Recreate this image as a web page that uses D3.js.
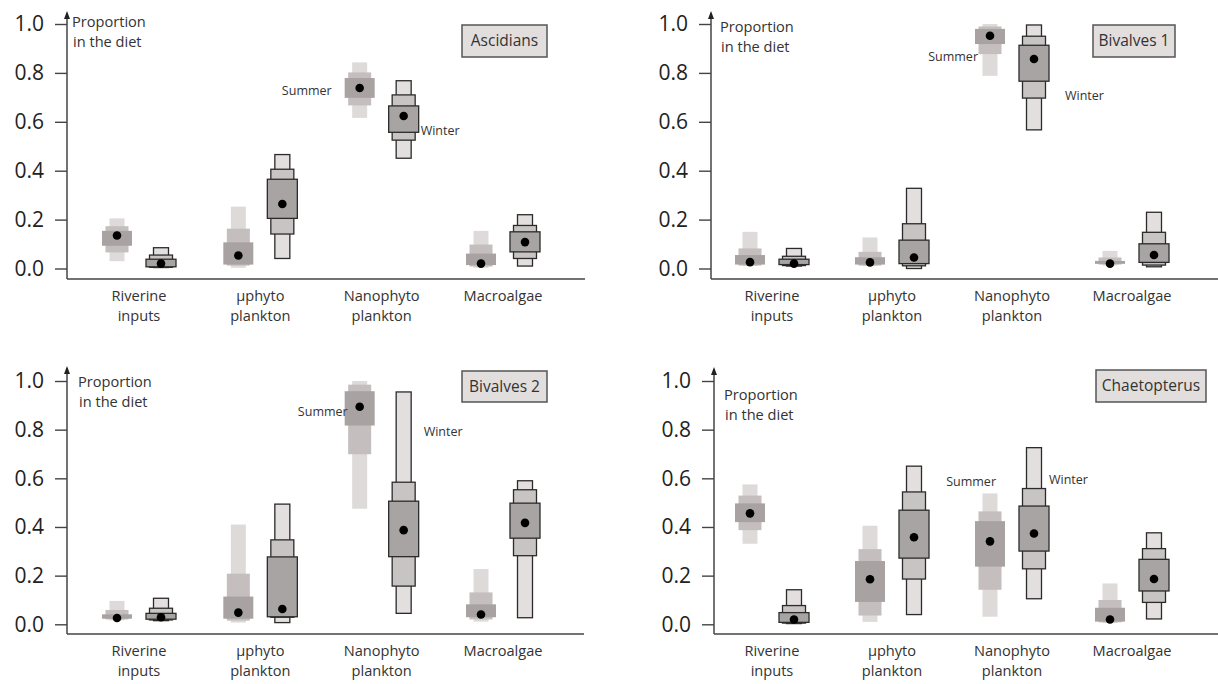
<!DOCTYPE html>
<html>
<head>
<meta charset="utf-8">
<script src="https://cdn.jsdelivr.net/npm/d3@7"></script>
<style>
  body { margin: 0; background: #fff; }
  svg { display: block; font-family: "Open Sans", "DejaVu Sans", sans-serif; }
</style>
</head>
<body>
<svg id="chart" width="1218" height="684"></svg>
<script>
// Food sources and their two-line axis labels
const categories = ["Riverine inputs", "µphyto plankton", "Nanophyto plankton", "Macroalgae"];
const categoryLines = [["Riverine", "inputs"], ["µphyto", "plankton"], ["Nanophyto", "plankton"], ["Macroalgae"]];
const seasons = ["Summer", "Winter"];
const panelNames = ["Ascidians", "Bivalves 1", "Bivalves 2", "Chaetopterus"];
const yTicks = [0, 0.2, 0.4, 0.6, 0.8, 1.0];

// Per source: [mode, lo50, hi50, lo75, hi75, lo95, hi95]
const ascidiansSummer = [
  [0.135, 0.093, 0.154, 0.066, 0.173, 0.030, 0.205],
  [0.053, 0.016, 0.107, 0.012, 0.163, 0.003, 0.253],
  [0.738, 0.698, 0.779, 0.667, 0.802, 0.616, 0.843],
  [0.020, 0.014, 0.061, 0.008, 0.098, 0.003, 0.154]
];
const ascidiansWinter = [
  [0.020, 0.007, 0.038, 0.005, 0.055, 0.004, 0.085],
  [0.264, 0.205, 0.365, 0.141, 0.406, 0.041, 0.466],
  [0.624, 0.557, 0.665, 0.525, 0.710, 0.451, 0.768],
  [0.108, 0.068, 0.150, 0.041, 0.176, 0.010, 0.220]
];
const bivalves1Summer = [
  [0.026, 0.016, 0.055, 0.012, 0.082, 0.010, 0.150],
  [0.025, 0.016, 0.046, 0.012, 0.068, 0.010, 0.127],
  [0.952, 0.918, 0.980, 0.877, 0.990, 0.788, 1.000],
  [0.020, 0.019, 0.031, 0.016, 0.045, 0.012, 0.072]
];
const bivalves1Winter = [
  [0.020, 0.016, 0.038, 0.012, 0.050, 0.010, 0.082],
  [0.045, 0.020, 0.116, 0.011, 0.183, 0.000, 0.328],
  [0.857, 0.766, 0.913, 0.697, 0.950, 0.567, 0.996],
  [0.055, 0.025, 0.101, 0.014, 0.148, 0.007, 0.230]
];
const bivalves2Summer = [
  [0.026, 0.023, 0.041, 0.020, 0.059, 0.016, 0.096],
  [0.048, 0.023, 0.114, 0.015, 0.208, 0.007, 0.410],
  [0.894, 0.817, 0.958, 0.699, 0.985, 0.475, 1.000],
  [0.040, 0.029, 0.082, 0.020, 0.131, 0.011, 0.227]
];
const bivalves2Winter = [
  [0.029, 0.021, 0.045, 0.018, 0.066, 0.015, 0.107],
  [0.063, 0.031, 0.277, 0.029, 0.347, 0.007, 0.494],
  [0.387, 0.278, 0.506, 0.157, 0.584, 0.045, 0.955],
  [0.417, 0.354, 0.498, 0.282, 0.553, 0.027, 0.590]
];
const chaetopterusSummer = [
  [0.456, 0.420, 0.497, 0.387, 0.529, 0.331, 0.575],
  [0.185, 0.092, 0.260, 0.036, 0.309, 0.010, 0.405],
  [0.341, 0.237, 0.424, 0.142, 0.464, 0.031, 0.538],
  [0.020, 0.011, 0.068, 0.008, 0.100, 0.005, 0.168]
];
const chaetopterusWinter = [
  [0.020, 0.008, 0.048, 0.005, 0.077, 0.003, 0.142],
  [0.358, 0.272, 0.469, 0.186, 0.544, 0.040, 0.650],
  [0.373, 0.301, 0.486, 0.228, 0.558, 0.105, 0.726],
  [0.186, 0.137, 0.267, 0.090, 0.311, 0.022, 0.376]
];

const panelData = [
  [ascidiansSummer, ascidiansWinter],
  [bivalves1Summer, bivalves1Winter],
  [bivalves2Summer, bivalves2Winter],
  [chaetopterusSummer, chaetopterusWinter]
];

// Panel geometry
const layout = [
  { ax: 67,  arrowTop: 11,  base: 279, right: 585,  y0: 268.5, y1: 24,  cat: [139, 503],
    tag: [462, 25, 85, 32],   prop: [72, 27],   sLab: [-28, 95],  wLab: [17, 135] },
  { ax: 711, arrowTop: 11,  base: 279, right: 1218, y0: 268.5, y1: 24,  cat: [772, 1132],
    tag: [1093, 25, 82, 32],  prop: [720, 32],  sLab: [-12, 61],  wLab: [31, 100] },
  { ax: 67,  arrowTop: 366, base: 634, right: 584,  y0: 624.3, y1: 381, cat: [139, 503],
    tag: [462, 371, 85, 31],  prop: [78, 387],  sLab: [-12, 416], wLab: [20, 436] },
  { ax: 714, arrowTop: 367, base: 634, right: 1218, y0: 624.3, y1: 381, cat: [772, 1132],
    tag: [1096, 370, 110, 32], prop: [724, 400], sLab: [6, 486],  wLab: [15, 484] }
];

// Interval bands: index pairs into each row, widths and fills
const bands = [
  { lo: 5, hi: 6, w: 15, fill: ["#dedada", "#e3dfdf"] },
  { lo: 3, hi: 4, w: 23, fill: ["#c4bebe", "#c9c4c4"] },
  { lo: 1, hi: 2, w: 30, fill: ["#a8a2a2", "#a9a4a4"] }
];
const seasonOffset = d3.scaleOrdinal().domain(seasons).range([-22, 22]);

const svg = d3.select("#chart");
svg.append("rect").attr("width", 1218).attr("height", 684).attr("fill", "#fff");

panelData.forEach((pair, pi) => {
  const L = layout[pi];
  const g = svg.append("g");
  const y = d3.scaleLinear().domain([0, 1]).range([L.y0, L.y1]);
  const x = d3.scalePoint().domain(categories).range(L.cat);

  // y axis ticks and labels
  const yAxis = d3.axisLeft(y).tickValues(yTicks).tickFormat(d3.format(".1f"))
    .tickSize(12).tickPadding(11);
  const ya = g.append("g").attr("transform", `translate(${L.ax},0)`).call(yAxis);
  ya.select(".domain").remove();
  ya.selectAll(".tick line").attr("stroke", "#444").attr("stroke-width", 1.4);
  ya.selectAll(".tick text").attr("font-size", 21).attr("fill", "#222")
    .attr("font-family", "'Open Sans', sans-serif");

  // axis lines with arrow on the vertical one
  g.append("line").attr("x1", L.ax).attr("x2", L.ax).attr("y1", L.arrowTop + 2).attr("y2", L.base)
    .attr("stroke", "#444").attr("stroke-width", 1.5);
  g.append("path")
    .attr("d", `M${L.ax - 3},${L.arrowTop + 8}L${L.ax},${L.arrowTop}L${L.ax + 3},${L.arrowTop + 8}Z`)
    .attr("fill", "#222");
  g.append("line").attr("x1", L.ax).attr("x2", L.right).attr("y1", L.base).attr("y2", L.base)
    .attr("stroke", "#444").attr("stroke-width", 1.5);

  // y label
  const pt = g.append("text").attr("x", L.prop[0]).attr("y", L.prop[1])
    .attr("font-size", 14.6).attr("fill", "#333");
  pt.append("tspan").attr("x", L.prop[0]).text("Proportion");
  pt.append("tspan").attr("x", L.prop[0] + 1).attr("dy", 19.5).text("in the diet");

  // category labels
  categories.forEach((c, ci) => {
    const t = g.append("text").attr("text-anchor", "middle").attr("font-size", 14.6)
      .attr("fill", "#333").attr("y", L.base + 22);
    categoryLines[ci].forEach((line, li) => {
      t.append("tspan").attr("x", x(c)).attr("dy", li === 0 ? 0 : 19.5).text(line);
    });
  });

  // credibility-interval boxes
  seasons.forEach((s, si) => {
    const rows = pair[si];
    const winter = si === 1;
    categories.forEach((c, ci) => {
      const row = rows[ci];
      const cx = x(c) + seasonOffset(s);
      bands.forEach(b => {
        const top = y(row[b.hi]), bot = y(row[b.lo]);
        g.append("rect")
          .attr("x", cx - b.w / 2).attr("width", b.w)
          .attr("y", top).attr("height", Math.max(bot - top, 1))
          .attr("fill", b.fill[si])
          .attr("stroke", winter ? "#2b2b2b" : "none")
          .attr("stroke-width", winter ? 1.3 : 0);
      });
      g.append("circle").attr("cx", cx).attr("cy", y(row[0])).attr("r", 4.3).attr("fill", "#000");
    });
  });

  // season labels next to the nanophytoplankton boxes
  const nano = categories[2];
  g.append("text").attr("text-anchor", "end")
    .attr("x", x(nano) + seasonOffset("Summer") + L.sLab[0]).attr("y", L.sLab[1])
    .attr("font-size", 12.5).attr("fill", "#333").text("Summer");
  g.append("text").attr("text-anchor", "start")
    .attr("x", x(nano) + seasonOffset("Winter") + L.wLab[0]).attr("y", L.wLab[1])
    .attr("font-size", 12.5).attr("fill", "#333").text("Winter");

  // species tag
  const [tx, ty, tw, th] = L.tag;
  g.append("rect").attr("x", tx).attr("y", ty).attr("width", tw).attr("height", th)
    .attr("fill", "#e2dede").attr("stroke", "#555").attr("stroke-width", 1.5);
  g.append("text").attr("x", tx + tw / 2).attr("y", ty + th / 2).attr("dy", "0.35em")
    .attr("text-anchor", "middle").attr("font-size", 15.5).attr("fill", "#333")
    .text(panelNames[pi]);
});
</script>
</body>
</html>
